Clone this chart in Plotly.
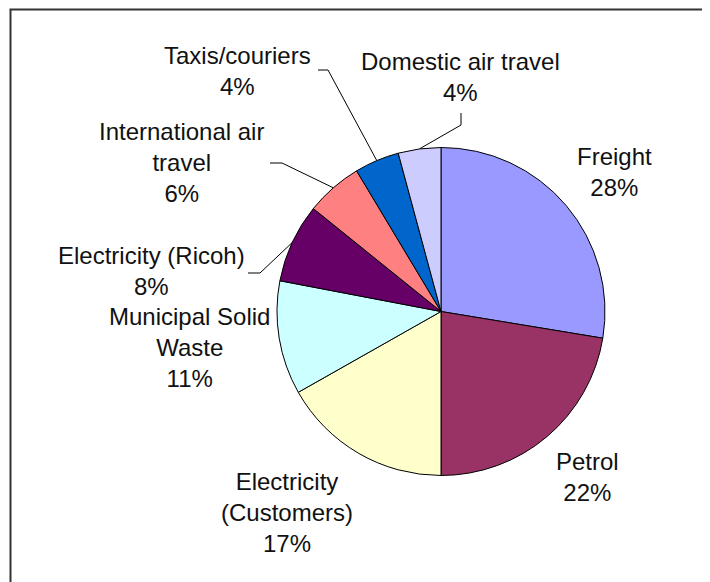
import math
import plotly.graph_objects as go

# ---- data ----
categories = ["Freight", "Petrol", "Electricity (Customers)", "Municipal Solid Waste",
              "Electricity (Ricoh)", "International air travel", "Taxis/couriers",
              "Domestic air travel"]
label_text = ["Freight", "Petrol", "Electricity<br>(Customers)", "Municipal Solid<br>Waste",
              "Electricity (Ricoh)", "International air<br>travel", "Taxis/couriers",
              "Domestic air travel"]
values = [27.6, 22.4, 16.8, 11.2, 7.8, 5.6, 4.4, 4.2]
colors = ["#9999FF", "#993366", "#FFFFCC", "#CCFFFF", "#660066", "#FF8080", "#0066CC", "#CCCCFF"]

# ---- layout constants (screen pixels) ----
W, H = 710, 582
OFF = 8  # page body margin offset
CX, CY, R = 441, 311.5, 164
FONT = "Liberation Sans, Arial, sans-serif"
FS = 24
label_pos = [(614, 172), (587, 477), (287, 512), (189, 347),
             (151, 271), (181, 162), (237, 71), (460, 77)]
leaders = {
    4: [(248, 273), (260, 273)],
    5: [(270, 163), (282, 163)],
    6: [(318, 70), (328, 70)],
    7: [(461, 113), (461, 125)],
}

fig = go.Figure()

fx = CX - OFF
fy = CY - OFF
fig.add_trace(go.Pie(
    labels=categories, values=values, sort=False, direction="clockwise", rotation=0,
    marker=dict(colors=colors, line=dict(color="#000000", width=1)),
    textinfo="none", hoverinfo="label+percent", showlegend=False,
    domain=dict(x=[(fx - R) / W, (fx + R) / W], y=[(H - fy - R) / H, (H - fy + R) / H]),
))

total = sum(values)
cum = 0.0
mids = []
for v in values:
    mids.append((cum + v / 2) / total)
    cum += v

for i, pts in leaders.items():
    ang = 2 * math.pi * mids[i]
    ex = CX + R * math.sin(ang)
    ey = CY - R * math.cos(ang)
    xs = [p[0] for p in pts] + [ex]
    ys = [p[1] for p in pts] + [ey]
    fig.add_trace(go.Scatter(x=xs, y=ys, mode="lines", line=dict(color="#000000", width=1),
                             hoverinfo="skip", showlegend=False))

for i, (lx, ly) in enumerate(label_pos):
    pct = round(values[i] / total * 100)
    fig.add_annotation(x=lx, y=ly, xref="x", yref="y", text=f"{label_text[i]}<br>{pct}%",
                       showarrow=False, xanchor="center", yanchor="middle", align="center",
                       font=dict(family=FONT, size=FS, color="#111111"))

# chart frame (top and left edges visible)
fig.add_shape(type="rect", xref="x", yref="y", x0=10.5, y0=9.5, x1=W + 30, y1=H + 30,
              line=dict(color="#333333", width=2), fillcolor="rgba(0,0,0,0)", layer="below")

fig.update_layout(
    width=W, height=H, margin=dict(l=0, r=0, t=0, b=0),
    paper_bgcolor="white", plot_bgcolor="rgba(0,0,0,0)",
    xaxis=dict(range=[OFF, W + OFF], visible=False, fixedrange=True),
    yaxis=dict(range=[H + OFF, OFF], visible=False, fixedrange=True),
)

fig.write_html("out.html")
